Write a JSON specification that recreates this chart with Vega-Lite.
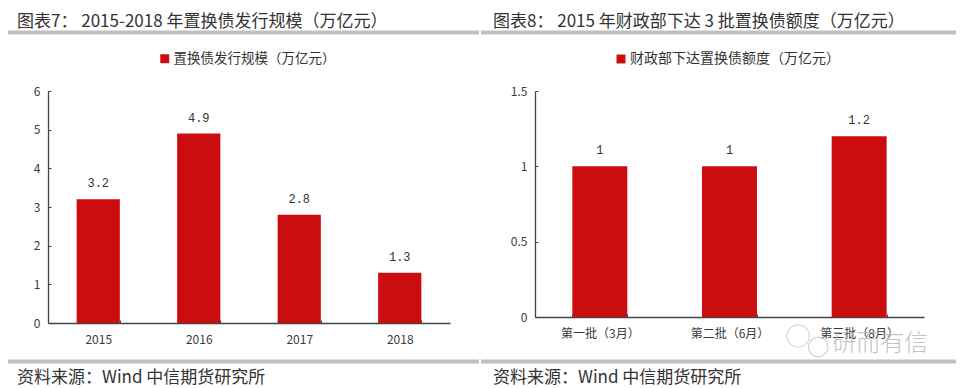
{"$schema":"https://vega.github.io/schema/vega-lite/v6.json","padding":{"left":6,"top":12,"right":0,"bottom":0},"spacing":-6,"background":"white","config":{"view":{"stroke":null},"font":"Noto Sans CJK SC","concat":{"spacing":0},"axis":{"labelFont":"Noto Sans CJK SC","labelColor":"#3a3a3a","domainColor":"#444444","tickColor":"#444444","grid":false,"title":null}},
"datasets":{"a":[{"年份":"2015","规模":3.2,"系列":"置换债发行规模（万亿元）"},{"年份":"2016","规模":4.9,"系列":"置换债发行规模（万亿元）"},{"年份":"2017","规模":2.8,"系列":"置换债发行规模（万亿元）"},{"年份":"2018","规模":1.3,"系列":"置换债发行规模（万亿元）"}],
"b":[{"批次":"第一批（3月）","额度":1,"系列":"财政部下达置换债额度（万亿元）"},{"批次":"第二批（6月）","额度":1,"系列":"财政部下达置换债额度（万亿元）"},{"批次":"第三批（8月）","额度":1.2,"系列":"财政部下达置换债额度（万亿元）"}],
"rule":[{"s":0,"e":1}],"mark":[{"批次":"第三批（8月）","t":"研而有信","v":0}]},
"hconcat":[
{"spacing":0,"vconcat":[
{"width":471,"height":3,"title":{"text":"图表7： 2015-2018 年置换债发行规模（万亿元）","anchor":"start","frame":"group","dx":9,"fontSize":17,"fontWeight":"normal","color":"#333333","offset":0,"font":"Noto Sans CJK SC"},"data":{"name":"rule"},"mark":{"type":"rule","color":"#c0c0c0","strokeWidth":4},"encoding":{"x":{"field":"s","type":"quantitative","axis":null,"scale":{"domain":[0,1]}},"x2":{"field":"e"}}},
{"width":471,"height":324,"data":{"name":"a"},"encoding":{"x":{"field":"年份","type":"nominal","scale":{"range":[40,442],"paddingInner":0.57,"paddingOuter":0.285},"axis":{"labelAngle":0,"labelFontSize":12,"labelPadding":14,"tickBand":"extent","tickSize":-3,"domainWidth":1.3,"offset":-36}},"y":{"field":"规模","type":"quantitative","scale":{"domain":[0,6],"range":[288,56]},"axis":{"values":[0,1,2,3,4,5,6],"labelOverlap":false,"labelFontSize":12,"labelPadding":11,"tickSize":-3,"domainWidth":1.3,"offset":-40}}},"layer":[
{"mark":{"type":"bar"},"encoding":{"fill":{"field":"系列","type":"nominal","scale":{"range":["#cc0d0f"]},"legend":{"title":null,"orient":"none","legendX":150,"legendY":21,"symbolType":"square","symbolSize":80,"labelOffset":2,"labelFontSize":13.5,"labelLimit":300,"labelColor":"#333333","labelFont":"Noto Sans CJK SC"}}}},
{"mark":{"type":"text","dy":-16,"fontSize":12,"color":"#333333","font":"Liberation Mono"},"encoding":{"text":{"field":"规模","type":"quantitative","format":".1f"}}}
]},
{"width":471,"height":3,"title":{"text":"资料来源：Wind 中信期货研究所","orient":"bottom","anchor":"start","frame":"group","dx":9,"fontSize":17,"fontWeight":"normal","color":"#333333","offset":6,"font":"Noto Sans CJK SC"},"data":{"name":"rule"},"mark":{"type":"rule","color":"#c0c0c0","strokeWidth":4},"encoding":{"x":{"field":"s","type":"quantitative","axis":null,"scale":{"domain":[0,1]}},"x2":{"field":"e"}}}
]},
{"spacing":0,"vconcat":[
{"width":475,"height":3,"title":{"text":"图表8： 2015 年财政部下达 3 批置换债额度（万亿元）","anchor":"start","frame":"group","dx":12,"fontSize":17,"fontWeight":"normal","color":"#333333","offset":0,"font":"Noto Sans CJK SC"},"data":{"name":"rule"},"mark":{"type":"rule","color":"#c0c0c0","strokeWidth":4},"encoding":{"x":{"field":"s","type":"quantitative","axis":null,"scale":{"domain":[0,1]}},"x2":{"field":"e"}}},
{"width":475,"height":324,"data":{"name":"b"},"encoding":{"x":{"field":"批次","type":"nominal","sort":null,"scale":{"range":[54,443],"paddingInner":0.576,"paddingOuter":0.288},"axis":{"labelAngle":0,"labelFontSize":12,"labelPadding":14,"tickBand":"extent","tickSize":-3,"domainWidth":1.3,"offset":-42}},"y":{"field":"额度","type":"quantitative","scale":{"domain":[0,1.5],"range":[282,56]},"axis":{"values":[0,0.5,1,1.5],"labelExpr":"datum.value == 1.5 ? '1.5' : datum.value == 0.5 ? '0.5' : datum.value","labelOverlap":false,"labelFontSize":12,"labelPadding":11,"tickSize":-3,"domainWidth":1.3,"offset":-54}}},"layer":[
{"mark":{"type":"bar"},"encoding":{"fill":{"field":"系列","type":"nominal","scale":{"range":["#cc0d0f"]},"legend":{"title":null,"orient":"none","legendX":133,"legendY":21,"symbolType":"square","symbolSize":80,"labelOffset":2,"labelFontSize":14,"labelLimit":300,"labelColor":"#333333","labelFont":"Noto Sans CJK SC"}}}},
{"mark":{"type":"text","dy":-16,"fontSize":12,"color":"#333333","font":"Liberation Mono"},"encoding":{"text":{"field":"额度","type":"nominal"}}},
{"data":{"name":"mark"},"mark":{"type":"text","clip":true,"dy":27,"dx":21,"fontSize":24,"color":"#b5b5b5","opacity":0.8,"font":"Noto Sans CJK SC","fontWeight":300},"encoding":{"y":{"field":"v","type":"quantitative"},"text":{"field":"t"}}},
{"data":{"name":"mark"},"mark":{"type":"point","clip":true,"shape":"circle","filled":false,"size":500,"stroke":"#cccccc","strokeWidth":1.2,"xOffset":-61,"yOffset":19},"encoding":{"y":{"field":"v","type":"quantitative"}}},
{"data":{"name":"mark"},"mark":{"type":"point","clip":true,"shape":"circle","filled":false,"size":380,"stroke":"#bbbbbb","strokeWidth":1.2,"xOffset":-41,"yOffset":30},"encoding":{"y":{"field":"v","type":"quantitative"}}}
]},
{"width":475,"height":3,"title":{"text":"资料来源：Wind 中信期货研究所","orient":"bottom","anchor":"start","frame":"group","dx":12,"fontSize":17,"fontWeight":"normal","color":"#333333","offset":6,"font":"Noto Sans CJK SC"},"data":{"name":"rule"},"mark":{"type":"rule","color":"#c0c0c0","strokeWidth":4},"encoding":{"x":{"field":"s","type":"quantitative","axis":null,"scale":{"domain":[0,1]}},"x2":{"field":"e"}}}
]}
],"resolve":{"scale":{"fill":"independent"}}}
